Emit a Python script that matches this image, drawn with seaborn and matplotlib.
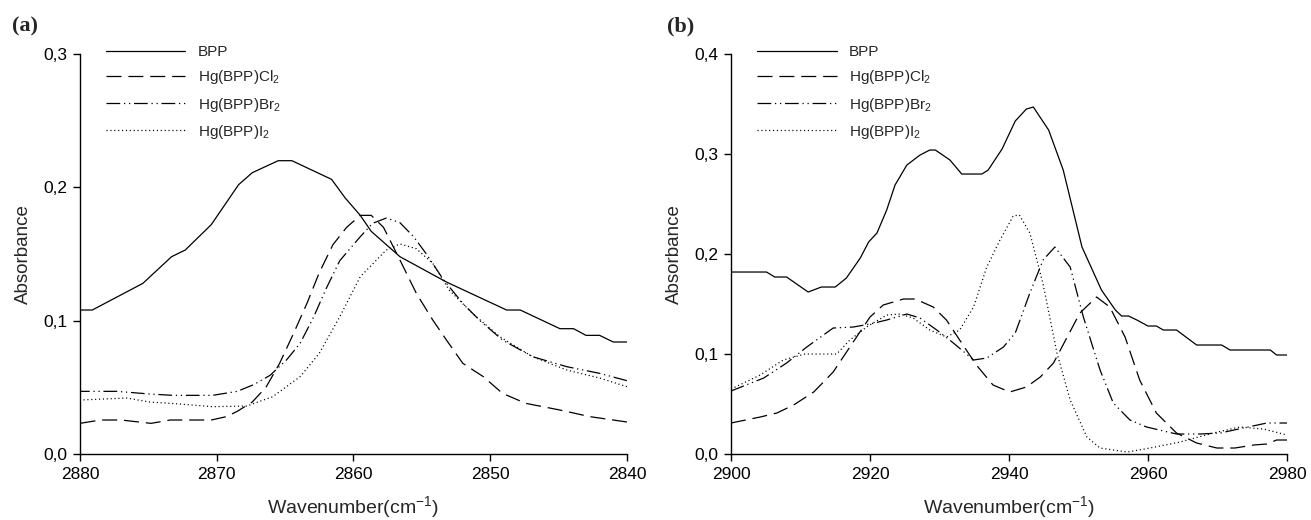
import numpy as np
import pandas as pd
import matplotlib
matplotlib.use('Agg')
import matplotlib.pyplot as plt
from matplotlib.ticker import FuncFormatter, MultipleLocator
import seaborn as sns

sns.set_style('ticks')
plt.rcParams['font.family'] = ['Liberation Sans', 'DejaVu Sans']
plt.rcParams['mathtext.default'] = 'regular'

labels = ['BPP', 'Hg(BPP)Cl$_2$', 'Hg(BPP)Br$_2$', 'Hg(BPP)I$_2$']

# panel (a): 2880 -> 2840 cm-1
a_bpp_x = [2880, 2879.1, 2875.4, 2873.3, 2872.3, 2870.4, 2868.4, 2867.4, 2865.5, 2864.5,
           2861.6, 2860.6, 2859.5, 2858.7, 2856.6, 2853.2, 2848.8, 2847.8, 2844.9, 2843.9,
           2843.0, 2842.0, 2841.0, 2840]
a_bpp_y = [0.108, 0.108, 0.128, 0.148, 0.153, 0.172, 0.202, 0.211, 0.220, 0.220,
           0.206, 0.192, 0.179, 0.167, 0.148, 0.129, 0.108, 0.108, 0.094, 0.094,
           0.089, 0.089, 0.084, 0.084]

a_cl_x = [2880, 2878.5, 2877, 2874.8, 2873.4, 2870.4, 2869.3, 2868.5, 2867.4, 2866.4,
          2865.4, 2864.4, 2863.4, 2862.5, 2861.5, 2860.5, 2859.5, 2858.7, 2857.8, 2856.6,
          2855.4, 2854.2, 2853.2, 2852.0, 2850.5, 2849.1, 2847.4, 2844.9, 2842.7, 2841.0, 2840]
a_cl_y = [0.023, 0.0255, 0.0255, 0.023, 0.0255, 0.0255, 0.028, 0.032, 0.039, 0.050,
          0.068, 0.090, 0.113, 0.136, 0.157, 0.170, 0.179, 0.179, 0.170, 0.1455,
          0.1205, 0.1005, 0.0855, 0.068, 0.058, 0.0455, 0.038, 0.033, 0.028, 0.0255, 0.024]

a_br_x = [2880, 2877.3, 2874.9, 2873.2, 2870.3, 2868.5, 2867.3, 2866.1, 2864.9, 2863.9,
          2862.9, 2862.0, 2861.0, 2859.5, 2858.6, 2857.6, 2856.6, 2855.6, 2854.7, 2853.4,
          2852.0, 2850.8, 2849.1, 2846.9, 2844.4, 2842.0, 2840]
a_br_y = [0.047, 0.047, 0.045, 0.044, 0.044, 0.047, 0.052, 0.059, 0.0705, 0.083,
          0.103, 0.124, 0.145, 0.163, 0.173, 0.177, 0.1735, 0.163, 0.1505, 0.1305,
          0.113, 0.1005, 0.0855, 0.073, 0.0655, 0.0605, 0.055]

a_i_x = [2880, 2876.6, 2874.9, 2872.7, 2870.3, 2867.8, 2865.9, 2863.9, 2862.5, 2861.0,
         2859.5, 2857.6, 2856.6, 2855.4, 2854.2, 2853.0, 2851.3, 2849.3, 2846.9, 2844.4,
         2842.0, 2840]
a_i_y = [0.0405, 0.042, 0.039, 0.0375, 0.0355, 0.036, 0.043, 0.058, 0.0755, 0.103,
         0.133, 0.153, 0.1575, 0.154, 0.143, 0.123, 0.1055, 0.088, 0.073, 0.063,
         0.057, 0.0505]

# panel (b): 2900 -> 2980 cm-1
b_bpp_x = [2900, 2905.1, 2906.3, 2908.0, 2911.1, 2913.0, 2915.0, 2916.6, 2918.6, 2919.8,
           2921.0, 2922.4, 2923.6, 2925.3, 2927.2, 2928.6, 2929.4, 2931.5, 2933.2, 2936.1,
           2937.0, 2939.0, 2940.9, 2942.5, 2943.5, 2945.7, 2947.8, 2950.5, 2953.3, 2955.3,
           2956.2, 2957.2, 2958.4, 2960.0, 2961.2, 2962.2, 2964.1, 2967.0, 2970.6, 2971.8,
           2977.6, 2978.5, 2980]
b_bpp_y = [0.182, 0.182, 0.177, 0.177, 0.162, 0.167, 0.167, 0.176, 0.196, 0.212,
           0.221, 0.244, 0.269, 0.289, 0.299, 0.304, 0.304, 0.294, 0.280, 0.280,
           0.284, 0.305, 0.333, 0.345, 0.347, 0.324, 0.284, 0.207, 0.164, 0.144,
           0.138, 0.138, 0.134, 0.128, 0.128, 0.124, 0.124, 0.109, 0.109, 0.104,
           0.104, 0.099, 0.099]

b_cl_x = [2900, 2904.2, 2906.6, 2909.0, 2911.9, 2914.7, 2917.1, 2920.0, 2921.9, 2924.8,
          2926.5, 2929.1, 2931.0, 2932.9, 2935.3, 2937.7, 2940.1, 2942.5, 2944.5, 2946.4,
          2950.2, 2952.6, 2954.5, 2956.7, 2958.8, 2961.2, 2964.1, 2967.0, 2969.9, 2972.5,
          2975.2, 2977.1, 2978.5, 2980]
b_cl_y = [0.031, 0.037, 0.041, 0.049, 0.062, 0.082, 0.107, 0.137, 0.149, 0.155,
          0.155, 0.147, 0.134, 0.114, 0.089, 0.069, 0.062, 0.067, 0.077, 0.091,
          0.141, 0.157, 0.147, 0.117, 0.074, 0.041, 0.021, 0.011, 0.006, 0.006,
          0.009, 0.010, 0.014, 0.014]

b_br_x = [2900, 2904.7, 2908.0, 2910.9, 2914.7, 2917.6, 2920.0, 2922.4, 2925.3, 2927.2,
          2929.6, 2932.0, 2934.9, 2936.8, 2939.2, 2940.9, 2943.0, 2944.9, 2946.6, 2948.8,
          2950.7, 2953.1, 2955.0, 2957.4, 2959.8, 2964.1, 2967.5, 2970.4, 2973.7, 2977.1, 2980]
b_br_y = [0.063, 0.076, 0.091, 0.107, 0.126, 0.127, 0.130, 0.134, 0.140, 0.136,
          0.124, 0.111, 0.094, 0.096, 0.107, 0.121, 0.161, 0.194, 0.207, 0.187,
          0.137, 0.084, 0.051, 0.034, 0.027, 0.020, 0.020, 0.021, 0.026, 0.031, 0.031]

b_i_x = [2900, 2904.2, 2907.5, 2910.6, 2915.2, 2917.1, 2919.5, 2922.4, 2924.3, 2926.2,
         2928.6, 2931.0, 2932.9, 2934.9, 2936.8, 2938.7, 2940.6, 2941.5, 2943.0, 2944.9,
         2946.9, 2948.8, 2951.2, 2953.1, 2957.0, 2960.3, 2964.6, 2969.4, 2973.2, 2976.6, 2980]
b_i_y = [0.065, 0.079, 0.094, 0.100, 0.100, 0.114, 0.127, 0.139, 0.140, 0.136,
         0.124, 0.117, 0.124, 0.147, 0.187, 0.214, 0.238, 0.239, 0.221, 0.170,
         0.101, 0.054, 0.017, 0.006, 0.002, 0.006, 0.012, 0.021, 0.027, 0.025, 0.019]


def make_df(series):
    parts = []
    for lab, (xs, ys) in zip(labels, series):
        parts.append(pd.DataFrame({'x': xs, 'y': ys, 'sample': lab}))
    return pd.concat(parts, ignore_index=True)


df_a = make_df([(a_bpp_x, a_bpp_y), (a_cl_x, a_cl_y), (a_br_x, a_br_y), (a_i_x, a_i_y)])
df_b = make_df([(b_bpp_x, b_bpp_y), (b_cl_x, b_cl_y), (b_br_x, b_br_y), (b_i_x, b_i_y)])

dash_map = {
    labels[0]: '',
    labels[1]: (12, 5.5),
    labels[2]: (11, 3, 1, 3, 1, 3),
    labels[3]: (0.9, 2.2),
}

fig = plt.figure(figsize=(13.11, 5.2), dpi=100)
ax_a = fig.add_axes([0.0610, 0.1269, 0.4172, 0.7692])
ax_b = fig.add_axes([0.5576, 0.1269, 0.4241, 0.7692])

comma = FuncFormatter(lambda v, p: f'{v:.1f}'.replace('.', ','))

for ax, df, xlim, ymax, xstep in [
        (ax_a, df_a, (2880, 2840), 0.3, 10),
        (ax_b, df_b, (2900, 2980), 0.4, 20)]:
    sns.lineplot(data=df, x='x', y='y', style='sample', style_order=labels,
                 dashes=dash_map, color='black', linewidth=0.9,
                 estimator=None, sort=True, ax=ax)
    ax.set_xlim(*xlim)
    ax.set_ylim(0, ymax)
    ax.xaxis.set_major_locator(MultipleLocator(xstep))
    ax.yaxis.set_major_locator(MultipleLocator(0.1))
    ax.yaxis.set_major_formatter(comma)
    ax.tick_params(direction='out', length=5, width=1, colors='black',
                   labelsize=12.5, pad=4)
    for s in ['left', 'bottom']:
        ax.spines[s].set_linewidth(1.0)
        ax.spines[s].set_color('black')
    sns.despine(ax=ax)
    ax.margins(0)
    ax.set_xlabel('Wavenumber(cm$^{-1}$)', fontsize=14, labelpad=9)
    ax.set_ylabel('Absorbance', fontsize=13.5, labelpad=8)
    handles, labs = ax.get_legend_handles_labels()
    ax.legend(handles, labs, loc='upper left', bbox_to_anchor=(0.0475, 1.022),
              frameon=False, fontsize=11, handlelength=5.2, handletextpad=0.8,
              labelspacing=0.6, borderaxespad=0, borderpad=0)

fig.text(0.009, 0.968, '(a)', fontsize=16, fontweight='bold',
         family=['Liberation Serif', 'DejaVu Serif'], va='top')
fig.text(0.509, 0.968, '(b)', fontsize=16, fontweight='bold',
         family=['Liberation Serif', 'DejaVu Serif'], va='top')

fig.savefig('out.png', dpi=100)
